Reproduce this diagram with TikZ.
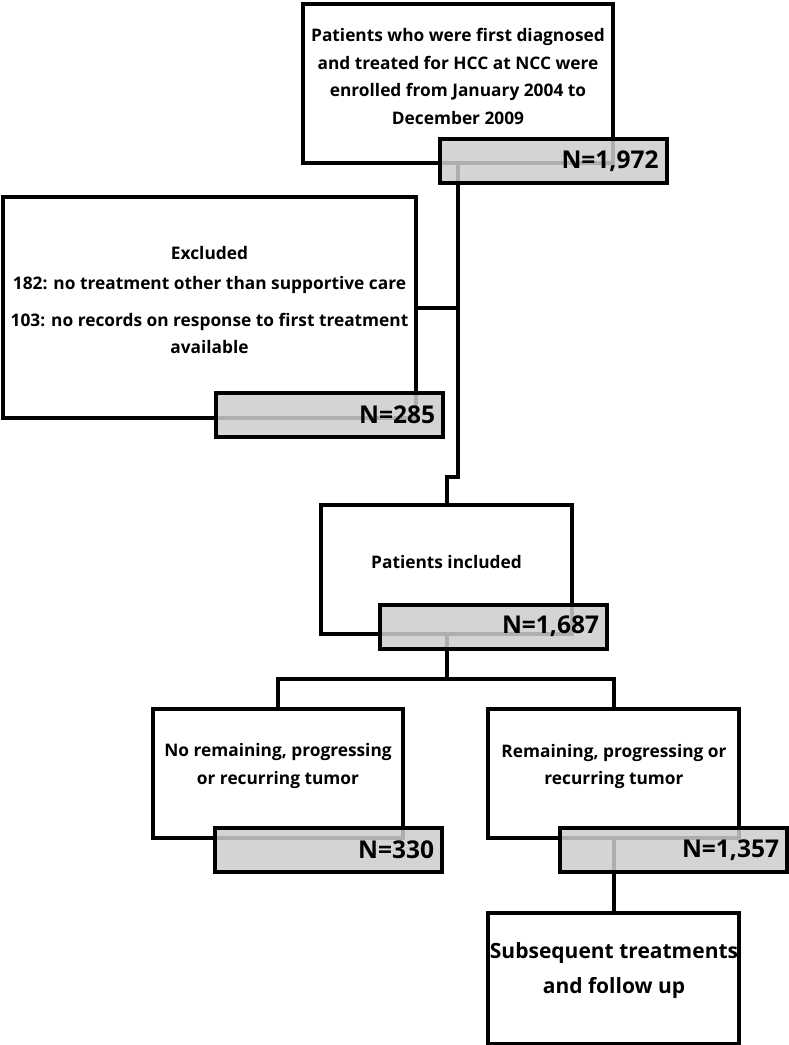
\documentclass[tikz,border=0pt]{standalone}
\usepackage{fontspec}
\setmainfont{Open Sans}
\definecolor{nfill}{RGB}{205,205,205}
\tikzset{
  wbox/.style={draw=black, fill=white, line width=4pt, rectangle, inner sep=0pt},
  nbox/.style={draw=black, fill=nfill, fill opacity=0.85, text opacity=1, draw opacity=1,
    line width=4pt, rectangle, inner xsep=8pt, inner ysep=0pt, minimum height=44pt,
    text width=211pt, align=right, font=\bfseries\fontsize{24.5}{28}\selectfont},
  conn/.style={line width=4pt, draw=black, line join=miter},
  txt/.style={align=center, inner sep=0pt, font=\bfseries\fontsize{17.3}{27.7}\selectfont},
  bigtxt/.style={align=center, inner sep=0pt, font=\bfseries\fontsize{21}{35}\selectfont},
}
\begin{document}
\begin{tikzpicture}[x=1pt,y=-1pt]
\useasboundingbox (0,0) rectangle (789,1045);
% white boxes
\node[wbox, minimum width=310pt, minimum height=159pt] (top)  at (458,83.5) {};
\node[wbox, minimum width=413pt, minimum height=221pt] (excl) at (209.5,307.5) {};
\node[wbox, minimum width=251pt, minimum height=129pt] (incl) at (446.5,569.5) {};
\node[wbox, minimum width=250pt, minimum height=129pt] (nor)  at (278,773.5) {};
\node[wbox, minimum width=251pt, minimum height=129pt] (rem)  at (613.5,773.5) {};
\node[wbox, minimum width=251pt, minimum height=131pt] (sub)  at (613.5,978.5) {};
% connectors
\draw[conn] (top.south) -- ++(0,312) -| (incl.north);
\draw[conn] (excl.east) -- (excl.east -| top.south);
\coordinate (split) at (446.5,679);
\draw[conn] (incl.south) -- (split);
\draw[conn] (nor.north) |- (split) -| (rem.north);
\draw[conn] (rem.south) -- (sub.north);
% count boxes
\node[nbox] (topN)  at (553,161)   {N=1,972};
\node[nbox] (exclN) at (329.5,415) {N=285};
\node[nbox] (inclN) at (493.5,626.5) {N=1,687};
\node[nbox] (norN)  at (328.5,850) {N=330};
\node[nbox] (remN)  at (673.5,850) {N=1,357};
% texts
\node[txt] (topt) at (458,76.5) {Patients who were first diagnosed\\and treated for HCC at NCC were\\enrolled from January 2004 to\\December 2009};
\node[txt] (exclt) at (209.5,300) {Excluded\\[2.3pt]182: no treatment other than supportive care\\[9.3pt]103: no records on response to first treatment\\available};
\node[txt] (inclt) at (446.5,562) {Patients included};
\node[txt] (nort) at (278,766) {No remaining, progressing\\or recurring tumor};
\node[txt] (remt) at (614,766.5) {Remaining, progressing or\\recurring tumor};
\node[bigtxt] (subt) at (614,970.5) {Subsequent treatments\\and follow up};
\end{tikzpicture}
\end{document}
